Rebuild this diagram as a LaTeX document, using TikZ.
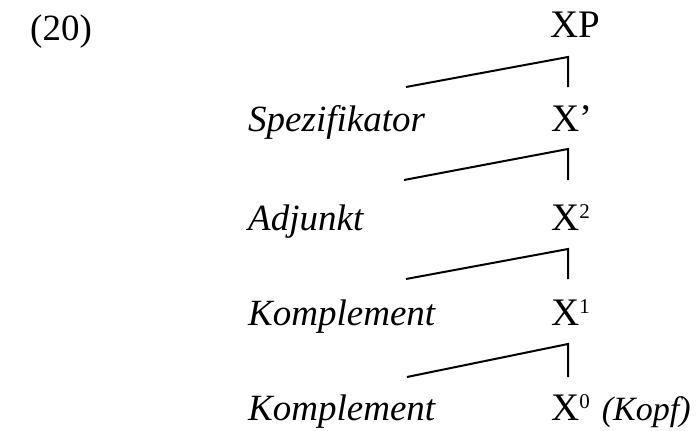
\documentclass[tikz,border=0pt]{standalone}
\usepackage{fontspec}
\setmainfont{Liberation Serif}
\newcommand{\supr}[1]{\raisebox{12pt}{\fontsize{21}{21}\selectfont #1}}
\begin{document}
\begin{tikzpicture}[x=1pt,y=1pt,
  lab/.style={inner sep=0pt,anchor=base west,font=\fontsize{37}{42}\selectfont},
  cat/.style={inner sep=0pt,anchor=base west,font=\fontsize{39}{44}\selectfont},
  branch/.style={line width=2pt,line join=miter}]
\useasboundingbox (0,0) rectangle (697,-431);
\node[lab] (num) at (30,-40) {(20)};
\node[cat] (xp) at (550,-37) {XP};
\node[cat] (x1bar) at (551,-131) {X’};
\node[lab] (spec) at (248,-131) {\itshape Spezifikator};
\node[cat] (x2) at (551,-230) {X\supr{2}};
\node[lab] (adj) at (248,-230) {\itshape Adjunkt};
\node[cat] (x1) at (551,-325) {X\supr{1}};
\node[lab] (komp1) at (248,-325) {\itshape Komplement};
\node[cat] (x0) at (551,-420) {X\supr{0}\hspace{12pt}{\fontsize{34}{40}\selectfont\itshape (Kopf)}};
\node[lab] (komp2) at (248,-420) {\itshape Komplement};
% branch points
\coordinate (t1) at (568,-57);  \coordinate (b1) at (568,-87);  \coordinate (l1) at (406,-87);
\coordinate (t2) at (568,-149); \coordinate (b2) at (568,-180); \coordinate (l2) at (404,-180);
\coordinate (t3) at (568,-249); \coordinate (b3) at (568,-279); \coordinate (l3) at (406,-279);
\coordinate (t4) at (568,-344); \coordinate (b4) at (568,-377); \coordinate (l4) at (407,-377);
\draw[branch] (l1) -- (t1) -- (b1);
\draw[branch] (l2) -- (t2) -- (b2);
\draw[branch] (l3) -- (t3) -- (b3);
\draw[branch] (l4) -- (t4) -- (b4);
\end{tikzpicture}
\end{document}
